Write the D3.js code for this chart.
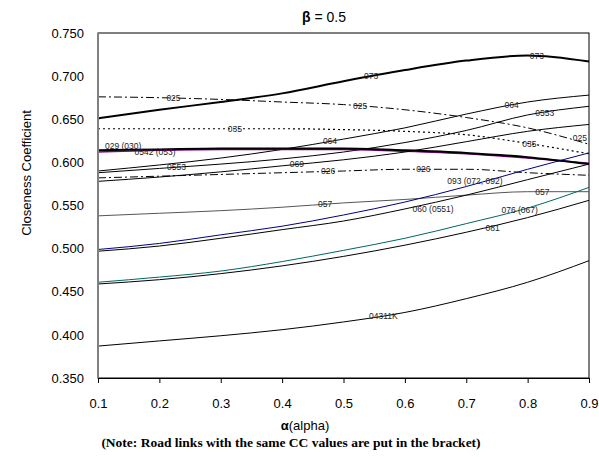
<!DOCTYPE html>
<html><head><meta charset="utf-8">
<script src="https://cdn.jsdelivr.net/npm/d3@7"></script>
<style>body{margin:0;background:#fff}svg{display:block}</style>
</head><body>
<script>
const alphas = [0.1,0.2,0.3,0.4,0.5,0.6,0.7,0.8,0.9];
const yTicks = [0.35,0.40,0.45,0.50,0.55,0.60,0.65,0.70,0.75];
const s073   = [0.651,0.661,0.670,0.680,0.694,0.707,0.718,0.724,0.717];
const s025   = [0.676,0.675,0.673,0.670,0.667,0.661,0.652,0.640,0.621];
const s035   = [0.639,0.639,0.639,0.639,0.638,0.636,0.632,0.622,0.610];
const s064   = [0.590,0.597,0.605,0.615,0.627,0.640,0.656,0.670,0.678];
const s0553  = [0.588,0.593,0.598,0.604,0.612,0.623,0.637,0.655,0.665];
const s029   = [0.614,0.615,0.616,0.616,0.616,0.614,0.611,0.606,0.598];
const s0542  = [0.612,0.614,0.615,0.615,0.615,0.613,0.610,0.605,0.599];
const s069   = [0.578,0.583,0.589,0.596,0.603,0.612,0.624,0.636,0.644];
const s026   = [0.582,0.584,0.586,0.588,0.590,0.592,0.592,0.588,0.585];
const s057   = [0.538,0.541,0.544,0.548,0.553,0.557,0.562,0.566,0.566];
const s093   = [0.499,0.506,0.516,0.526,0.539,0.554,0.572,0.592,0.611];
const s060   = [0.497,0.503,0.512,0.522,0.532,0.546,0.562,0.580,0.598];
const s076   = [0.461,0.467,0.474,0.485,0.498,0.512,0.529,0.547,0.571];
const s081   = [0.459,0.464,0.471,0.480,0.491,0.504,0.519,0.536,0.556];
const s04311 = [0.387,0.393,0.399,0.406,0.415,0.426,0.442,0.461,0.486];

const seriesNames = ["073","025","035","064","0553","0542 (053)","029 (030)","069","026","057","093 (072, 092)","060 (0551)","076 (067)","081","04311K"];
const seriesVals  = [s073,s025,s035,s064,s0553,s0542,s029,s069,s026,s057,s093,s060,s076,s081,s04311];
const seriesColor = ["#000","#000","#000","#000","#000","#800080","#000","#000","#000","#555","#000080","#000","#006666","#000","#000"];
const seriesWidth = [2,1,1.2,1,1,1.5,2,1,1,1,1,1,1,1,1];
const seriesDash  = [null,"8,3,2,3","2,3",null,null,null,null,null,"8,3,2,3",null,null,null,null,null,null];

// label annotations: series index, alpha, text, vertical offset
const labelSeries = [0,0,1,1,1,2,2,6,5,4,4,7,3,3,8,8,9,9,10,11,12,13,14];
const labelAlpha  = [0.545,0.815,0.223,0.527,0.885,0.323,0.803,0.141,0.193,0.228,0.828,0.424,0.478,0.774,0.475,0.63,0.47,0.824,0.714,0.646,0.787,0.743,0.565];
const labelText   = ["073","073","025","025","025","035","035","029 (030)","0542 (053)","0553","0553","069","064","064","026","026","057","057","093 (072, 092)","060 (0551)","076 (067)","081","04311K"];
const labelDy     = [0,0,0,0,-4,0,0,-4,2,0,0,0,0,0,0,0,0,0,-3,6,0,2,0];

const W=599,H=457;
const svg=d3.select("body").append("svg").attr("width",W).attr("height",H);
const x=d3.scaleLinear().domain([0.1,0.9]).range([98,589]);
const y=d3.scaleLinear().domain([0.35,0.75]).range([378,33]);
const font="Liberation Sans, Arial, sans-serif";

// plot frame
svg.append("rect").attr("x",x(0.1)).attr("y",y(0.75)).attr("width",x(0.9)-x(0.1)).attr("height",y(0.35)-y(0.75))
  .attr("fill","none").attr("stroke","#000").attr("stroke-width",1);

// lines
const line=d3.line().x((d,i)=>x(alphas[i])).y(d=>y(d)).curve(d3.curveMonotoneX);
seriesVals.forEach((v,k)=>{
  svg.append("path").attr("d",line(v)).attr("fill","none")
    .attr("stroke",seriesColor[k]).attr("stroke-width",seriesWidth[k])
    .attr("stroke-dasharray",seriesDash[k]);
});

// labels
const interp=(v,a)=>{const xs=alphas;let i=Math.min(xs.length-2,Math.max(0,Math.floor((a-0.1)/0.1+1e-9)));const t=(a-xs[i])/(xs[i+1]-xs[i]);return v[i]+(v[i+1]-v[i])*t;};
labelText.forEach((t,j)=>{
  const v=seriesVals[labelSeries[j]];
  svg.append("text").attr("x",x(labelAlpha[j])).attr("y",y(interp(v,labelAlpha[j]))+labelDy[j])
    .attr("text-anchor","middle").attr("dominant-baseline","central")
    .attr("font-family",font).attr("font-size",8.5).attr("fill","#222").text(t);
});

// left axis line (gray)
svg.append("line").attr("x1",x(0.1)).attr("x2",x(0.1)).attr("y1",y(0.75)).attr("y2",y(0.35)).attr("stroke","#808080").attr("stroke-width",2);

// x axis
const xa=svg.append("g").attr("transform",`translate(0,${y(0.35)})`)
  .call(d3.axisBottom(x).tickValues(alphas).tickFormat(d3.format(".1f")).tickSize(5).tickSizeOuter(0));
xa.select(".domain").attr("stroke","#000");
xa.selectAll("line").attr("stroke","#000");
xa.selectAll("text").attr("font-family",font).attr("font-size",13).attr("fill","#000").attr("dy","1.7em");

// y axis
const ya=svg.append("g").attr("transform",`translate(${x(0.1)},0)`)
  .call(d3.axisLeft(y).tickValues(yTicks).tickFormat(d3.format(".3f")).tickSize(0).tickPadding(14));
ya.select(".domain").remove();
ya.selectAll("text").attr("font-family",font).attr("font-size",13).attr("fill","#000");

// titles
const t=svg.append("text").attr("x",324).attr("y",22).attr("text-anchor","middle").attr("font-family",font).attr("font-size",14);
t.append("tspan").attr("font-weight","bold").text("β");
t.append("tspan").text(" = 0.5");
svg.append("text").attr("transform","translate(31,173) rotate(-90)").attr("text-anchor","middle")
  .attr("font-family",font).attr("font-size",13).text("Closeness Coefficient");
const xt=svg.append("text").attr("x",305).attr("y",430).attr("text-anchor","middle").attr("font-family",font).attr("font-size",13);
xt.append("tspan").attr("font-weight","bold").text("α");
xt.append("tspan").text("(alpha)");
svg.append("text").attr("x",291).attr("y",447).attr("text-anchor","middle").attr("font-family","Liberation Serif, Times New Roman, serif")
  .attr("font-weight","bold").attr("font-size",13.5).text("(Note: Road links with the same CC values are put in the bracket)");
</script>
</body></html>
